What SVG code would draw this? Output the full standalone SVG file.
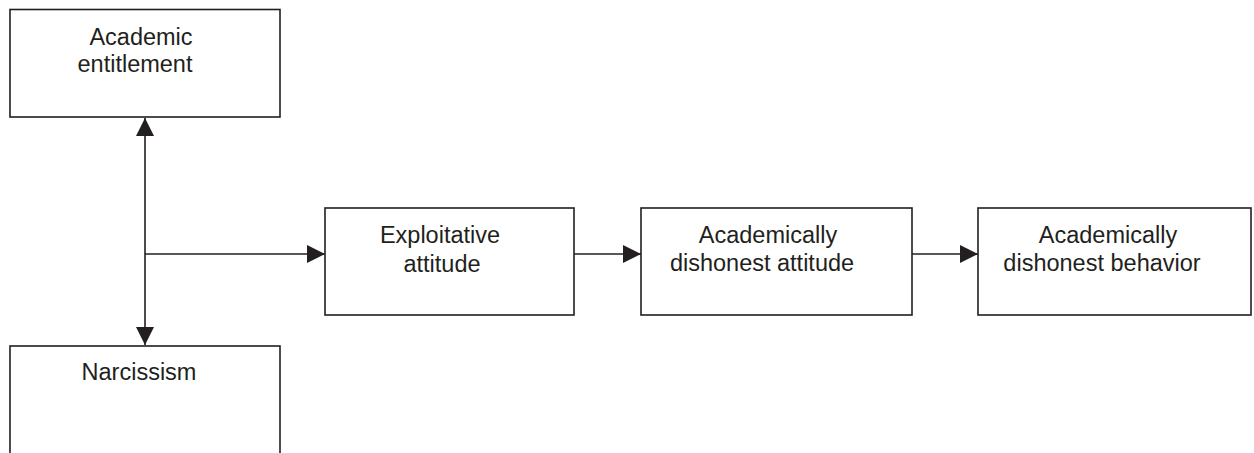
<svg xmlns="http://www.w3.org/2000/svg" width="1254" height="453" viewBox="0 0 1254 453">
<style>
.box{fill:#fff;stroke:#231f20;stroke-width:1.6}
.t{font-family:"Liberation Sans",Arial,sans-serif;font-size:23.5px;fill:#231f20;text-anchor:middle}
.c{stroke:#231f20;stroke-width:1.6;fill:none}
</style>
<defs>
<marker id="ah" markerWidth="18" markerHeight="18" viewBox="0 0 18 18" refX="18" refY="9" orient="auto" markerUnits="userSpaceOnUse">
<path d="M0,0 L18,9 L0,18 Z" fill="#231f20"/>
</marker>
</defs>
<rect width="1254" height="453" fill="#fff"/>
<g id="connectors">
<line class="c" x1="145" y1="254" x2="145" y2="118" marker-end="url(#ah)"/>
<line class="c" x1="145" y1="254" x2="145" y2="345" marker-end="url(#ah)"/>
<line class="c" x1="145" y1="254" x2="325" y2="254" marker-end="url(#ah)"/>
<line class="c" x1="574" y1="254" x2="641" y2="254" marker-end="url(#ah)"/>
<line class="c" x1="912" y1="254" x2="978" y2="254" marker-end="url(#ah)"/>
</g>
<g id="node-entitlement">
<rect class="box" x="10" y="9.5" width="270" height="107.5"/>
<text class="t" x="141" y="45">Academic</text>
<text class="t" x="135" y="72">entitlement</text>
</g>
<g id="node-narcissism">
<rect class="box" x="10" y="346" width="270" height="120"/>
<text class="t" x="139" y="380">Narcissism</text>
</g>
<g id="node-exploitative">
<rect class="box" x="325" y="208" width="249" height="107"/>
<text class="t" x="440" y="243">Exploitative</text>
<text class="t" x="442" y="272">attitude</text>
</g>
<g id="node-dishonest-attitude">
<rect class="box" x="641" y="208" width="271" height="107"/>
<text class="t" x="768" y="243">Academically</text>
<text class="t" x="762" y="271">dishonest attitude</text>
</g>
<g id="node-dishonest-behavior">
<rect class="box" x="978" y="208" width="273" height="107"/>
<text class="t" x="1108" y="243">Academically</text>
<text class="t" x="1102" y="271">dishonest behavior</text>
</g>
</svg>
